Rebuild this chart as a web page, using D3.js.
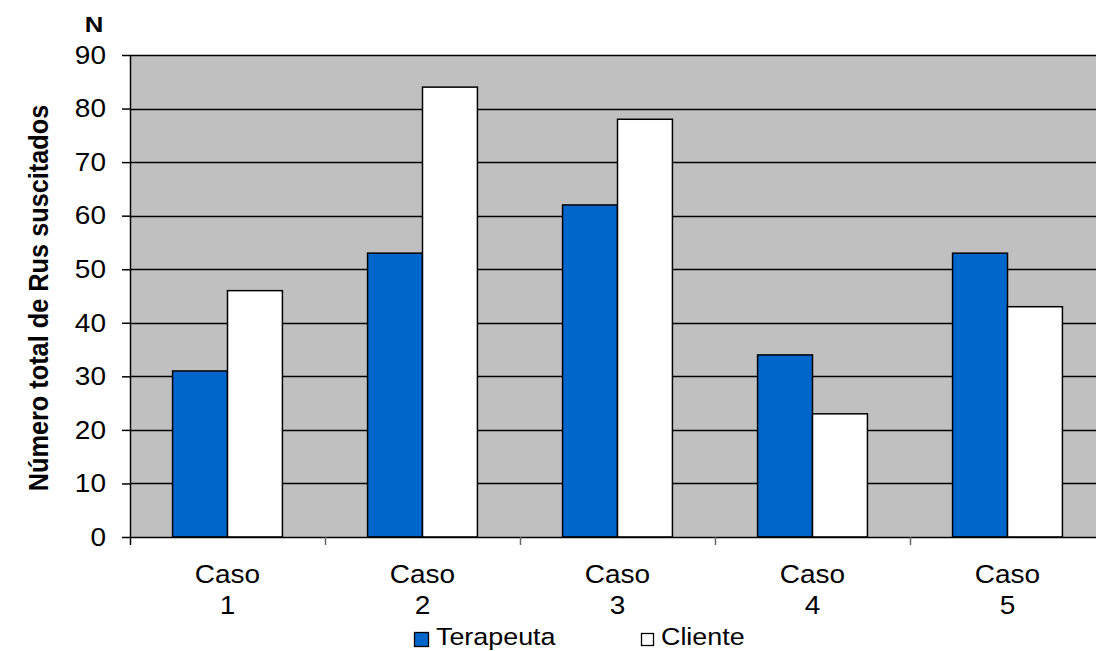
<!DOCTYPE html>
<html>
<head>
<meta charset="utf-8">
<script src="https://cdn.jsdelivr.net/npm/d3@7"></script>
<style>
  html, body { margin: 0; padding: 0; background: #fff; }
  svg { display: block; font-family: "Liberation Sans", Arial, sans-serif; }
</style>
</head>
<body>
<svg id="chart" width="1096" height="651"></svg>
<script>
// Number of RUs elicited per case, therapist vs client
const cases = ["1", "2", "3", "4", "5"];
const terapeuta = [31, 53, 62, 34, 53];
const cliente = [46, 84, 78, 23, 43];
const yTicks = [0, 10, 20, 30, 40, 50, 60, 70, 80, 90];
const seriesNames = ["Terapeuta", "Cliente"];
const seriesColors = ["#0066cc", "#ffffff"];

const FONT = 25;     // label font size
const SX = 1.12;     // horizontal widening of the lettering

const svg = d3.select("#chart");
const plot = { left: 130, top: 55, right: 1105, bottom: 537 };

const x = d3.scaleBand().domain(cases).range([plot.left, plot.right]).paddingInner(0).paddingOuter(0);
const inner = d3.scaleBand().domain(seriesNames).range([0, x.bandwidth()]).paddingInner(0).paddingOuter(0.775);
const y = d3.scaleLinear().domain([0, 90]).range([plot.bottom, plot.top]);

// places a text at (px,py) with widened lettering
function label(sel, px, py) {
  return sel.attr("transform", `translate(${px},${py}) scale(${SX},1)`);
}

// plot background
svg.append("rect")
  .attr("x", plot.left).attr("y", plot.top)
  .attr("width", plot.right - plot.left).attr("height", plot.bottom - plot.top)
  .attr("fill", "#c0c0c0");

// horizontal gridlines
svg.append("g").selectAll("line").data(yTicks.filter(d => d > 0)).join("line")
  .attr("x1", plot.left).attr("x2", plot.right)
  .attr("y1", d => Math.round(y(d)) + 0.5).attr("y2", d => Math.round(y(d)) + 0.5)
  .attr("stroke", "#000").attr("stroke-width", 1.5);

// bars
const groups = svg.append("g").selectAll("g").data(cases).join("g")
  .attr("transform", d => `translate(${x(d)},0)`);
groups.selectAll("rect")
  .data((d, i) => [
    { s: seriesNames[0], v: terapeuta[i], c: seriesColors[0] },
    { s: seriesNames[1], v: cliente[i], c: seriesColors[1] }
  ])
  .join("rect")
  .attr("x", d => inner(d.s))
  .attr("y", d => y(d.v))
  .attr("width", inner.bandwidth())
  .attr("height", d => y(0) - y(d.v))
  .attr("fill", d => d.c)
  .attr("stroke", "#000").attr("stroke-width", 1.5);

// y axis
const yAxis = d3.axisLeft(y).tickValues(yTicks).tickSize(8).tickFormat("");
const gy = svg.append("g").attr("transform", `translate(${plot.left},0)`).call(yAxis);
gy.select(".domain").attr("stroke", "#000").attr("stroke-width", 1.5).attr("d", `M0.5,${plot.top}V${plot.bottom}`);
gy.selectAll(".tick line").attr("stroke", "#000").attr("stroke-width", 1.5);
svg.append("g").selectAll("text").data(yTicks).join("text")
  .attr("text-anchor", "end").attr("font-size", FONT).attr("fill", "#000")
  .attr("dy", "0.35em")
  .each(function (d) { label(d3.select(this), 106, y(d)); })
  .text(d => d);

// x axis baseline and category boundary ticks
const gx = svg.append("g");
gx.append("line").attr("x1", plot.left).attr("x2", plot.right)
  .attr("y1", plot.bottom + 0.5).attr("y2", plot.bottom + 0.5)
  .attr("stroke", "#000").attr("stroke-width", 1.5);
gx.selectAll("line.tk").data(cases).join("line").attr("class", "tk")
  .attr("x1", d => x(d) + 0.5).attr("x2", d => x(d) + 0.5)
  .attr("y1", plot.bottom).attr("y2", plot.bottom + 8)
  .attr("stroke", (d, i) => i === 0 ? "#000" : "#666").attr("stroke-width", 1.5);

// category labels
const cl = gx.selectAll("text.cat").data(cases).join("text").attr("class", "cat")
  .attr("text-anchor", "middle").attr("font-size", FONT).attr("fill", "#000")
  .each(function (d) { label(d3.select(this), x(d) + x.bandwidth() / 2, 583); });
cl.append("tspan").attr("x", 0).attr("y", 0).text("Caso");
cl.append("tspan").attr("x", 0).attr("y", 31).text(d => d);

// axis titles
label(svg.append("text"), 94, 32).attr("text-anchor", "middle")
  .attr("font-size", 23).attr("font-weight", "bold").text("N");
svg.append("text")
  .attr("transform", `translate(48,${(plot.top + plot.bottom) / 2 + 2}) scale(${SX},1) rotate(-90)`)
  .attr("text-anchor", "middle").attr("font-size", 25.3).attr("font-weight", "bold")
  .text("Número total de Rus suscitados");

// legend
const legendBox = [
  { x: 414, y: 632, w: 15, h: 15 },
  { x: 641, y: 633, w: 13, h: 13 }
];
const legendTextX = [436, 661];
const lg = svg.append("g").selectAll("g").data(seriesNames).join("g");
lg.append("rect")
  .attr("x", (d, i) => legendBox[i].x + 0.5).attr("y", (d, i) => legendBox[i].y + 0.5)
  .attr("width", (d, i) => legendBox[i].w - 1).attr("height", (d, i) => legendBox[i].h - 1)
  .attr("fill", (d, i) => seriesColors[i]).attr("stroke", "#000").attr("stroke-width", 1.3);
lg.append("text").attr("font-size", 24).attr("fill", "#000")
  .each(function (d, i) { label(d3.select(this), legendTextX[i], 645); })
  .text(d => d);
</script>
</body>
</html>
